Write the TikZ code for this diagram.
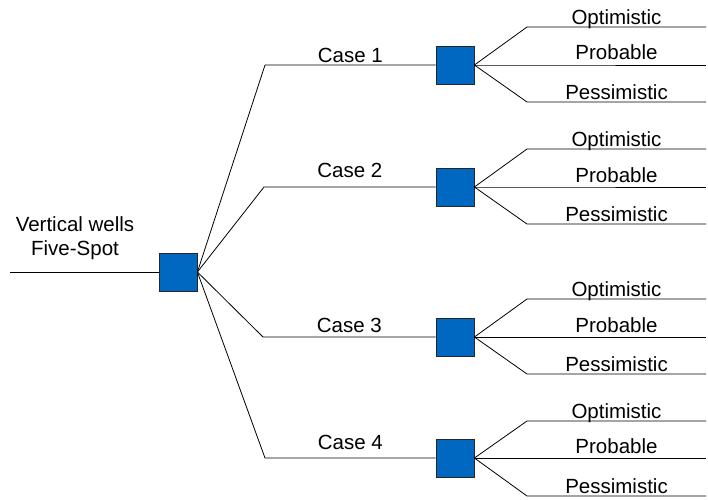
\documentclass[tikz,border=0pt]{standalone}
\usepackage{fontspec}
\setmainfont{Liberation Sans}
\usepackage{tikz}
\usetikzlibrary{positioning,calc}
\definecolor{decblue}{RGB}{0,104,192}
\tikzset{
  treefont/.style={font=\fontsize{20.5}{24}\selectfont},
  decbox/.style={draw=black!85, fill=decblue, minimum size=38pt, inner sep=0pt, line width=0.8pt},
  treeline/.style={line width=0.8pt},
  caselabel/.style={anchor=base, inner sep=0pt},
  leaflabel/.style={anchor=base, inner sep=0pt, yshift=3pt},
}

\begin{document}
\begin{tikzpicture}[x=1pt,y=-1pt,treefont]
  \useasboundingbox (0,0) rectangle (708,499);

  % Root decision
  \node[align=center] (title) at (75,238) {Vertical wells\\Five-Spot};
  \node[decbox] (root) at (178,272) {};
  \coordinate (rootin) at (10,272);
  \draw[treeline] (rootin) -- (root.west);

  % Cases
  \node[decbox] (case1) at (455,65) {};
  \node[decbox] (case2) at (455,187) {};
  \node[decbox] (case3) at (455,337) {};
  \node[decbox] (case4) at (455,458) {};
  \coordinate (k1) at (265,65);
  \coordinate (k2) at (264,187);
  \coordinate (k3) at (263,337);
  \coordinate (k4) at (265,458);
  \draw[treeline] (root.east) -- (k1) -- node[caselabel, yshift=3pt] {Case 1} (case1.west);
  \draw[treeline] (root.east) -- (k2) -- node[caselabel, yshift=10pt] {Case 2} (case2.west);
  \draw[treeline] (root.east) -- (k3) -- node[caselabel, yshift=5pt] {Case 3} (case3.west);
  \draw[treeline] (root.east) -- (k4) -- node[caselabel, yshift=9pt] {Case 4} (case4.west);

  % Outcomes of case 1
  \coordinate (opt1) at (527,27);  \coordinate (opt1e) at (706,27);
  \coordinate (pro1) at (527,65);  \coordinate (pro1e) at (706,65);
  \coordinate (pes1) at (527,102); \coordinate (pes1e) at (706,102);
  \draw[treeline] (case1.east) -- (opt1) -- node[leaflabel] {Optimistic} (opt1e);
  \draw[treeline] (case1.east) -- (pro1) -- node[leaflabel, yshift=3pt] {Probable} (pro1e);
  \draw[treeline] (case1.east) -- (pes1) -- node[leaflabel] {Pessimistic} (pes1e);

  % Outcomes of case 2
  \coordinate (opt2) at (527,149); \coordinate (opt2e) at (706,149);
  \coordinate (pro2) at (527,187); \coordinate (pro2e) at (706,187);
  \coordinate (pes2) at (527,224); \coordinate (pes2e) at (706,224);
  \draw[treeline] (case2.east) -- (opt2) -- node[leaflabel] {Optimistic} (opt2e);
  \draw[treeline] (case2.east) -- (pro2) -- node[leaflabel, yshift=2pt] {Probable} (pro2e);
  \draw[treeline] (case2.east) -- (pes2) -- node[leaflabel] {Pessimistic} (pes2e);

  % Outcomes of case 3
  \coordinate (opt3) at (527,299); \coordinate (opt3e) at (706,299);
  \coordinate (pro3) at (527,337); \coordinate (pro3e) at (706,337);
  \coordinate (pes3) at (527,374); \coordinate (pes3e) at (706,374);
  \draw[treeline] (case3.east) -- (opt3) -- node[leaflabel] {Optimistic} (opt3e);
  \draw[treeline] (case3.east) -- (pro3) -- node[leaflabel, yshift=2pt] {Probable} (pro3e);
  \draw[treeline] (case3.east) -- (pes3) -- node[leaflabel] {Pessimistic} (pes3e);

  % Outcomes of case 4
  \coordinate (opt4) at (527,421); \coordinate (opt4e) at (706,421);
  \coordinate (pro4) at (527,458); \coordinate (pro4e) at (706,458);
  \coordinate (pes4) at (527,496); \coordinate (pes4e) at (706,496);
  \draw[treeline] (case4.east) -- (opt4) -- node[leaflabel] {Optimistic} (opt4e);
  \draw[treeline] (case4.east) -- (pro4) -- node[leaflabel, yshift=2pt] {Probable} (pro4e);
  \draw[treeline] (case4.east) -- (pes4) -- node[leaflabel] {Pessimistic} (pes4e);
\end{tikzpicture}
\end{document}
